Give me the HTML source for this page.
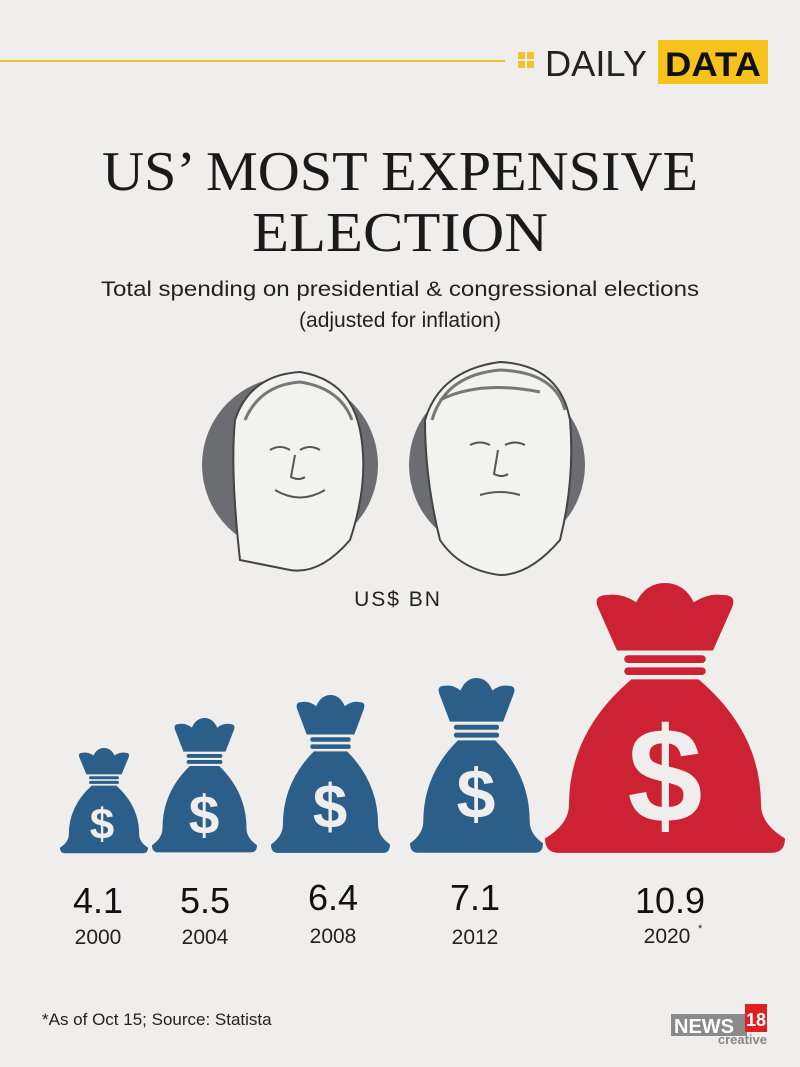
<!DOCTYPE html>
<html><head><meta charset="utf-8"><style>
body{margin:0;width:800px;height:1067px;background:#efeeec;overflow:hidden;position:relative;font-family:"Liberation Sans",sans-serif}
</style></head><body>
<svg width="800" height="1067" style="position:absolute;left:0;top:0" font-family="Liberation Sans, sans-serif">
<defs>
<g id="bag">
<path d="M30,28 L22,10 Q20,5 26,5 Q32,4 38,8 Q42,0 50,0 Q58,0 62,8 Q68,4 74,5 Q80,5 78,10 L70,28 Z"/>
<rect x="33" y="30" width="34" height="3.2" rx="1.6"/>
<rect x="33" y="35" width="34" height="3.2" rx="1.6"/>
<path d="M36,40 L64,40 Q90,62 90,92 Q90,100 100,106 Q100,112 94,112 L6,112 Q0,112 0,106 Q10,100 10,92 Q10,62 36,40 Z"/>
</g>
</defs>
<line x1="0" y1="61" x2="505" y2="61" stroke="#f2c12e" stroke-width="2"/>
<rect x="518" y="52" width="7" height="7" fill="#f2c12e"/><rect x="527" y="52" width="7" height="7" fill="#f2c12e"/>
<rect x="518" y="61" width="7" height="7" fill="#f2c12e"/><rect x="527" y="61" width="7" height="7" fill="#f2c12e"/>
<text x="545" y="76" font-size="36" fill="#222" textLength="102" lengthAdjust="spacingAndGlyphs">DAILY</text>
<rect x="658" y="40" width="110" height="44" fill="#f6c31c"/>
<text x="665" y="76" font-size="34" font-weight="bold" fill="#111" textLength="96" lengthAdjust="spacingAndGlyphs">DATA</text>
<text x="400" y="190" font-family="Liberation Serif, serif" font-size="56" text-anchor="middle" fill="#1a1a1a" textLength="596" lengthAdjust="spacingAndGlyphs">US’ MOST EXPENSIVE</text>
<text x="400" y="251" font-family="Liberation Serif, serif" font-size="56" text-anchor="middle" fill="#1a1a1a" textLength="296" lengthAdjust="spacingAndGlyphs">ELECTION</text>
<text x="400" y="296" font-size="21" text-anchor="middle" fill="#222" textLength="598" lengthAdjust="spacingAndGlyphs">Total spending on presidential &amp; congressional elections</text>
<text x="400" y="327" font-size="21" text-anchor="middle" fill="#222">(adjusted for inflation)</text>
<circle cx="290" cy="465" r="88" fill="#6b6d70"/>
<path d="M240,560 Q230,470 235,420 Q250,375 300,372 Q350,380 360,430 Q370,480 350,540 Q320,575 290,570 Z" fill="#f2f2f0" stroke="#444" stroke-width="2"/>
<path d="M245,420 Q260,385 300,382 Q340,388 352,420" stroke="#777" stroke-width="3" fill="none"/>
<circle cx="497" cy="465" r="88" fill="#6b6d70"/>
<path d="M440,540 Q425,480 425,420 Q440,370 500,362 Q560,365 570,420 Q575,480 560,540 Q530,575 500,575 Q460,570 440,540 Z" fill="#f2f2f0" stroke="#444" stroke-width="2"/>
<path d="M432,420 Q445,375 500,370 Q555,372 565,410 M440,400 Q480,380 540,392" stroke="#777" stroke-width="3" fill="none"/>
<path d="M270,450 q10,-6 20,0 M300,450 q10,-6 20,0 M275,490 q25,15 50,0 M295,455 l-4,22 q8,4 14,0" stroke="#555" stroke-width="2" fill="none"/>
<path d="M470,445 q10,-5 20,0 M505,445 q10,-5 20,0 M480,495 q20,-6 40,0 M498,450 l-4,24 q8,4 14,0" stroke="#555" stroke-width="2" fill="none"/>
<text x="398" y="606" font-size="21" text-anchor="middle" fill="#222" letter-spacing="2">US$ BN</text>
<g fill="#2c5e8a">
<use href="#bag" transform="translate(60,748) scale(0.88,0.94)"/>
<use href="#bag" transform="translate(152,718) scale(1.05,1.2)"/>
<use href="#bag" transform="translate(271,695) scale(1.19,1.41)"/>
<use href="#bag" transform="translate(410,678) scale(1.33,1.56)"/>
</g>
<g fill="#cc2233"><use href="#bag" transform="translate(545,583) scale(2.4,2.41)"/></g>
<g fill="#efeeec" font-weight="bold" text-anchor="middle">
<text x="102" y="839" font-size="44">$</text>
<text x="204" y="834" font-size="55">$</text>
<text x="330" y="828" font-size="62">$</text>
<text x="476" y="818" font-size="70">$</text>
<text x="665" y="822" font-size="135">$</text>
</g>
<g fill="#111" font-size="36" text-anchor="middle">
<text x="98" y="913">4.1</text><text x="205" y="913">5.5</text><text x="333" y="910">6.4</text><text x="475" y="910">7.1</text><text x="670" y="913">10.9</text>
</g>
<g fill="#222" font-size="21" text-anchor="middle">
<text x="98" y="944">2000</text><text x="205" y="944">2004</text><text x="333" y="943">2008</text><text x="475" y="944">2012</text><text x="667" y="943">2020</text>
</g>
<text x="698" y="932" font-size="11" fill="#222">*</text>
<text x="42" y="1025" font-size="17" fill="#222">*As of Oct 15;   Source: Statista</text>
<rect x="671" y="1014" width="76" height="22" fill="#8a8a8a"/>
<text x="674" y="1033" font-size="20" font-weight="bold" fill="#fff">NEWS</text>
<rect x="745" y="1004" width="22" height="28" fill="#e02020"/>
<text x="756" y="1026" font-size="18" font-weight="bold" fill="#fff" text-anchor="middle">18</text>
<text x="767" y="1044" font-size="13" font-weight="bold" fill="#888" text-anchor="end">creative</text>
</svg>
</body></html>
